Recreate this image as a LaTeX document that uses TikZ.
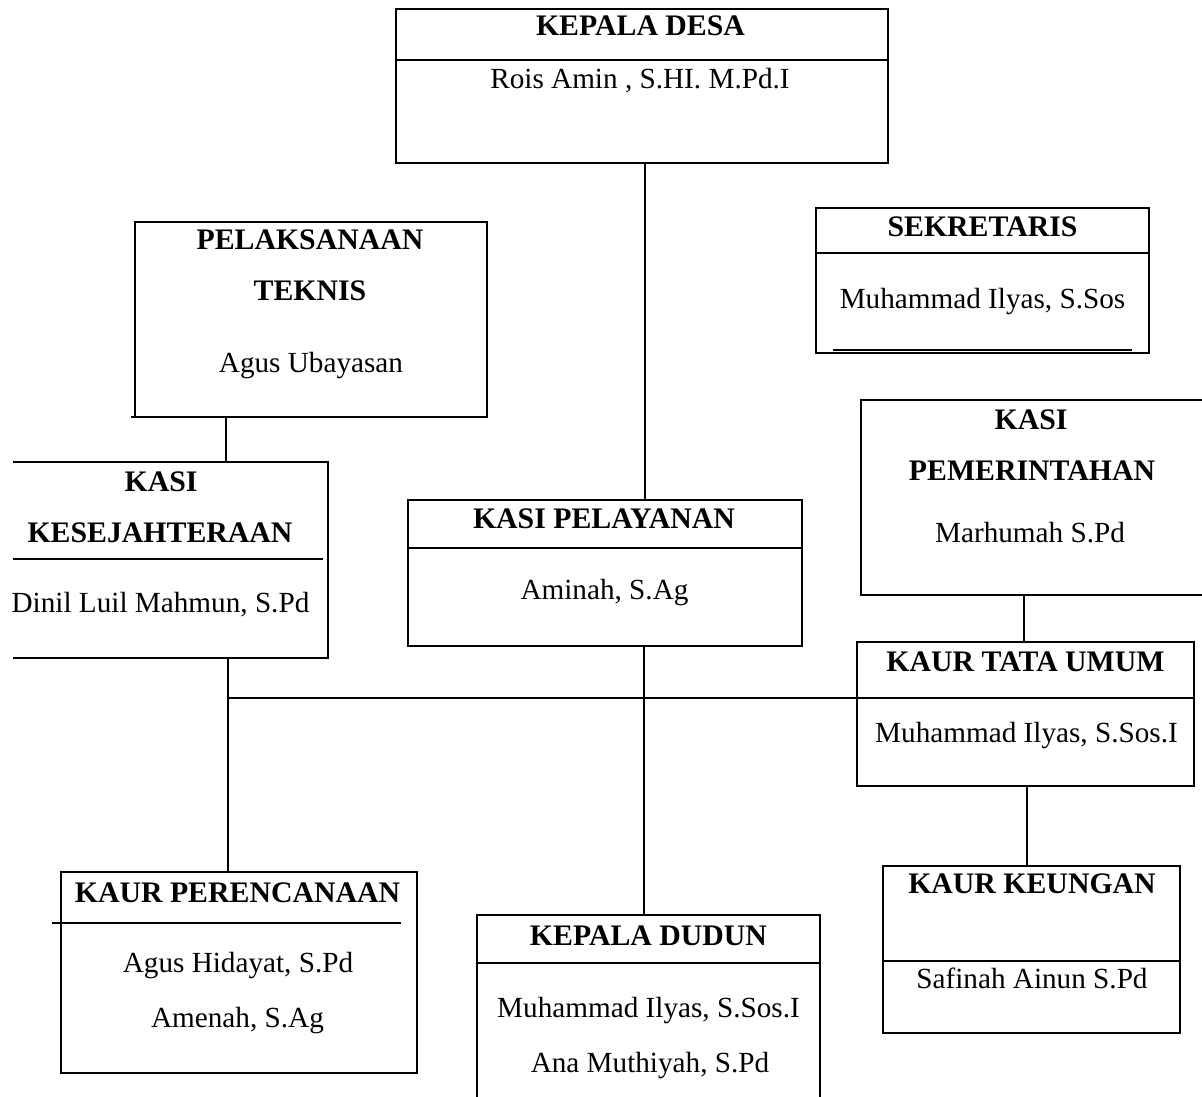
\documentclass[tikz,border=0pt]{standalone}
\usepackage{fontspec}
\setmainfont{Liberation Serif}
\begin{document}
\begin{tikzpicture}[x=1pt,y=-1pt,
  box/.style={draw=black,line width=2pt,rectangle,inner sep=0pt},
  openbox/.style={rectangle,inner sep=0pt},
  conn/.style={draw=black,line width=1.1pt},
  divl/.style={draw=black,line width=1.3pt},
  tt/.style={anchor=base,inner sep=0pt,font=\fontsize{29.8}{34}\selectfont\bfseries},
  nm/.style={anchor=base,inner sep=0pt,font=\fontsize{29.2}{34}\selectfont}]
\useasboundingbox (0,0) rectangle (1202,1097);
\clip (0,0) rectangle (1202,1097);
\fill[white] (0,0) rectangle (1202,1097);

% boxes
\node[box,minimum width=492pt,minimum height=154pt] (kd) at (642,86) {};
\node[box,minimum width=352pt,minimum height=195pt] (pt) at (311,319.5) {};
\node[box,minimum width=333pt,minimum height=145pt] (sek) at (982.5,280.5) {};
\node[box,minimum width=351pt,minimum height=195pt] (pem) at (1036.5,497.5) {};
\node[openbox,minimum width=315pt,minimum height=196pt] (kes) at (170.5,560) {};
\draw[line width=2pt] (kes.north west) -- (kes.north east) -- (kes.south east) -- (kes.south west);
\node[box,minimum width=394pt,minimum height=146pt] (pel) at (605,573) {};
\node[box,minimum width=337pt,minimum height=144pt] (ktu) at (1025.5,714) {};
\node[box,minimum width=356pt,minimum height=201pt] (kpr) at (239,972.5) {};
\node[box,minimum width=343pt,minimum height=195pt] (kdd) at (648.5,1012.5) {};
\node[box,minimum width=297pt,minimum height=167pt] (kk) at (1031.5,949.5) {};

% dividers and extra strokes
\draw[divl] (396,60) -- (888,60);
\draw[divl] (816,253) -- (1149,253);
\draw[line width=2pt] (833,350) -- (1132,350);
\draw[line width=2pt] (131,417) -- (136,417);
\draw[divl] (13,559) -- (323,559);
\draw[divl] (408,548) -- (802,548);
\draw[divl] (857,698) -- (1194,698);
\draw[divl] (52,923) -- (401,923);
\draw[divl] (477,963) -- (820,963);
\draw[divl] (883,961) -- (1180,961);

% texts
\node[tt] (t1) at (640.5,36) {KEPALA DESA};
\node[nm] (n1) at (640,89) {Rois Amin , S.HI. M.Pd.I};
\node[tt] (t2a) at (310,249) {PELAKSANAAN};
\node[tt] (t2b) at (310,300) {TEKNIS};
\node[nm] (n2) at (311,372) {Agus Ubayasan};
\node[tt] (t3) at (982.5,236) {SEKRETARIS};
\node[nm] (n3) at (982.5,308) {Muhammad Ilyas, S.Sos};
\node[tt] (t4a) at (1031,429) {KASI};
\node[tt] (t4b) at (1032,480) {PEMERINTAHAN};
\node[nm] (n4) at (1030,542) {Marhumah S.Pd};
\node[tt] (t5a) at (161,491) {KASI};
\node[tt] (t5b) at (160,542) {KESEJAHTERAAN};
\node[nm] (n5) at (160.5,612) {Dinil Luil Mahmun, S.Pd};
\node[tt] (t6) at (604,528) {KASI PELAYANAN};
\node[nm] (n6) at (604.5,599) {Aminah, S.Ag};
\node[tt] (t7) at (1025.5,671) {KAUR TATA UMUM};
\node[nm] (n7) at (1026.5,742) {Muhammad Ilyas, S.Sos.I};
\node[tt] (t8) at (237.5,902) {KAUR PERENCANAAN};
\node[nm] (n8a) at (238,972) {Agus Hidayat, S.Pd};
\node[nm] (n8b) at (237.5,1027) {Amenah, S.Ag};
\node[tt] (t9) at (648.5,945) {KEPALA DUDUN};
\node[nm] (n9a) at (648.5,1017) {Muhammad Ilyas, S.Sos.I};
\node[nm] (n9b) at (650,1072) {Ana Muthiyah, S.Pd};
\node[tt] (t10) at (1032,893) {KAUR KEUNGAN};
\node[nm] (n10) at (1032,988) {Safinah Ainun S.Pd};

% connectors
\coordinate (x645) at (645,0);
\coordinate (x226) at (226,0);
\coordinate (x1024) at (1024,0);
\coordinate (x228) at (228,0);
\coordinate (x644) at (644,0);
\coordinate (x1027) at (1027,0);
\coordinate (jn) at (228,698);
\draw[conn] (kd.south -| x645) -- (pel.north -| x645);
\draw[conn] (pt.south -| x226) -- (kes.north -| x226);
\draw[conn] (pem.south -| x1024) -- (ktu.north -| x1024);
\draw[conn] (kes.south -| x228) -- (kpr.north -| x228);
\draw[conn] (jn) -- (ktu.west |- jn);
\draw[conn] (pel.south -| x644) -- (kdd.north -| x644);
\draw[conn] (ktu.south -| x1027) -- (kk.north -| x1027);
\end{tikzpicture}
\end{document}
